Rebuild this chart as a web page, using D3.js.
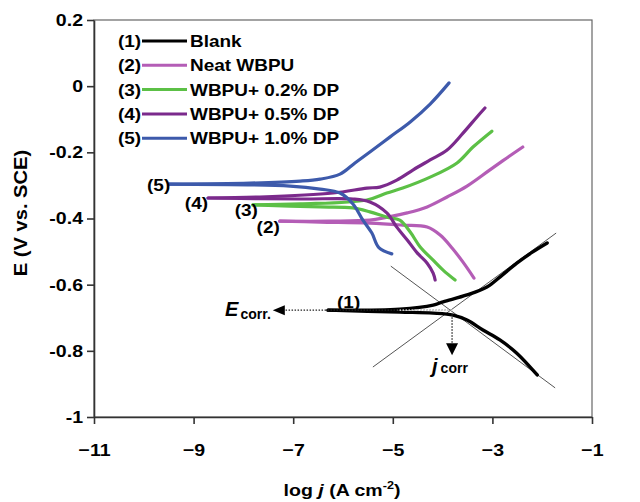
<!DOCTYPE html>
<html>
<head>
<meta charset="utf-8">
<script src="https://cdn.jsdelivr.net/npm/d3@7"></script>
<style>
  body { margin: 0; background: #fff; }
  text { font-family: Arial, "Liberation Sans", sans-serif; font-weight: bold; }
</style>
</head>
<body>
<div id="chart"></div>
<script>
// axis ticks
var xTicks = [-11, -9, -7, -5, -3, -1];
var yTicks = [0.2, 0, -0.2, -0.4, -0.6, -0.8, -1];
var yTickLabels = ["0.2", "0", "-0.2", "-0.4", "-0.6", "-0.8", "-1"];

var seriesTags = ["(1)", "(2)", "(3)", "(4)", "(5)"];
var seriesNames = ["Blank", "Neat WBPU", "WBPU+ 0.2% DP", "WBPU+ 0.5% DP", "WBPU+ 1.0% DP"];

// each curve: [log j, E] from cathodic end -> Ecorr spike -> anodic end
var blank = [[-2.10,-0.873],[-2.51,-0.807],[-2.85,-0.767],[-3.19,-0.737],[-3.51,-0.707],[-3.79,-0.692],
  [-4.19,-0.686],[-4.86,-0.683],[-6.30,-0.677],[-4.86,-0.674],[-4.19,-0.662],[-3.99,-0.652],
  [-3.51,-0.631],[-3.11,-0.607],[-2.85,-0.577],[-2.51,-0.535],[-2.19,-0.501],[-1.90,-0.474]];
var neat = [[-3.37,-0.580],[-3.59,-0.532],[-3.81,-0.489],[-4.05,-0.450],[-4.31,-0.426],[-4.80,-0.420],
  [-5.46,-0.414],[-6.46,-0.411],[-7.27,-0.408],[-6.26,-0.408],[-5.46,-0.405],[-5.12,-0.396],
  [-4.71,-0.383],[-4.31,-0.365],[-3.91,-0.335],[-3.51,-0.302],[-3.05,-0.253],[-2.71,-0.217],[-2.39,-0.184]];
var dp02 = [[-3.75,-0.586],[-3.99,-0.556],[-4.19,-0.526],[-4.45,-0.486],[-4.65,-0.441],[-4.86,-0.405],
  [-5.12,-0.396],[-5.46,-0.380],[-5.80,-0.368],[-6.46,-0.365],[-7.81,-0.359],[-6.86,-0.356],
  [-5.52,-0.344],[-5.12,-0.323],[-4.80,-0.308],[-4.25,-0.275],[-3.71,-0.232],[-3.39,-0.184],[-3.01,-0.136]];
var dp05 = [[-4.15,-0.586],[-4.19,-0.565],[-4.31,-0.535],[-4.51,-0.504],[-4.71,-0.465],[-4.92,-0.426],
  [-5.12,-0.383],[-5.46,-0.350],[-5.80,-0.341],[-6.86,-0.341],[-8.71,-0.338],[-7.67,-0.335],
  [-6.20,-0.323],[-5.52,-0.308],[-5.26,-0.305],[-4.92,-0.284],[-4.59,-0.253],[-4.25,-0.223],
  [-3.91,-0.193],[-3.59,-0.142],[-3.31,-0.093],[-3.15,-0.066]];
var dp10 = [[-5.02,-0.507],[-5.28,-0.488],[-5.42,-0.444],[-5.60,-0.405],[-5.80,-0.356],[-6.06,-0.323],
  [-6.46,-0.311],[-7.06,-0.302],[-9.49,-0.296],[-7.87,-0.293],[-6.86,-0.287],[-6.46,-0.281],
  [-6.06,-0.266],[-5.76,-0.232],[-5.46,-0.199],[-5.06,-0.154],[-4.65,-0.108],[-4.25,-0.054],[-3.87,0.010]];

// Tafel extrapolation lines for the blank and Ecorr / jcorr marks
var anodicTafel = [[-5.40,-0.849],[-1.72,-0.444]];
var cathodicTafel = [[-5.04,-0.544],[-1.74,-0.912]];
var eCorr = -0.677, logJCorr = -3.81;
var eArrowEnd = -7.41, jArrowEnd = -0.813;

var curves = [blank, neat, dp02, dp05, dp10];
var colors = ["#000000", "#b45db6", "#5cc046", "#7b2a8c", "#3d5aab"];

var margin = {top: 20, right: 48, bottom: 85, left: 94},
    width = 640 - margin.left - margin.right,
    height = 502 - margin.top - margin.bottom;
var SX = 1.15; // the figure's lettering is a bit wider than Arial

var x = d3.scaleLinear().domain([-11, -1]).range([0, width]);
var y = d3.scaleLinear().domain([-1, 0.2]).range([height, 0]);

var svg = d3.select("#chart").append("svg")
    .attr("width", width + margin.left + margin.right)
    .attr("height", height + margin.top + margin.bottom)
  .append("g")
    .attr("transform", "translate(" + margin.left + "," + margin.top + ")");

// wide text helper
function wideText(parent, px, py, size, anchor, extra) {
  return parent.append("g")
      .attr("transform", "translate(" + px + "," + py + ")" + (extra || "") + " scale(" + SX + ",1)")
    .append("text")
      .attr("font-size", size)
      .attr("text-anchor", anchor || "start");
}

// frame
svg.append("rect")
    .attr("width", width).attr("height", height)
    .attr("fill", "none").attr("stroke", "#666").attr("stroke-width", 1.2);

var xAxis = svg.append("g")
    .attr("transform", "translate(0," + height + ")")
    .call(d3.axisBottom(x).tickValues(xTicks).tickSize(7).tickSizeOuter(0).tickPadding(20)
      .tickFormat(d3.format("d")));
var yAxis = svg.append("g")
    .call(d3.axisLeft(y).tickValues(yTicks).tickSize(7).tickSizeOuter(0).tickPadding(4)
      .tickFormat(function(d, i) { return yTickLabels[i]; }));
[xAxis, yAxis].forEach(function(a) {
  a.select(".domain").attr("stroke", "#333").attr("stroke-width", 1.6);
  a.selectAll(".tick line").attr("stroke", "#333").attr("stroke-width", 1.6);
  a.selectAll("text").attr("font-size", 17).attr("font-family", "Arial, 'Liberation Sans', sans-serif")
    .attr("font-weight", "bold").attr("fill", "#000");
});
xAxis.selectAll(".tick text").attr("dy", "0.71em").attr("transform", "scale(" + SX + ",1)");
yAxis.selectAll(".tick text").attr("x", -11 / SX).attr("transform", "scale(" + SX + ",1)");

// axis titles
var xt = wideText(svg, 248, height + 79, 17, "middle");
xt.append("tspan").text("log ");
xt.append("tspan").attr("font-style", "italic").text("j");
xt.append("tspan").text("  (A cm");
xt.append("tspan").attr("font-size", 11).attr("dy", -7).text("-2");
xt.append("tspan").attr("dy", 7).text(")");

wideText(svg, -67, 193, 17.5, "middle", " rotate(-90)").text("E (V vs. SCE)");

var line = d3.line()
    .curve(d3.curveCatmullRom.alpha(0.5))
    .x(function(d) { return x(d[0]); })
    .y(function(d) { return y(d[1]); });

// tangent lines
[anodicTafel, cathodicTafel].forEach(function(t) {
  svg.append("path").datum(t).attr("d", line)
    .attr("fill", "none").attr("stroke", "#555").attr("stroke-width", 1);
});

// curves, split at the Ecorr spike into cathodic and anodic branches
curves.forEach(function(c, i) {
  var k = d3.minIndex(c, function(d) { return d[0]; });
  [c.slice(0, k + 1), c.slice(k)].forEach(function(branch) {
    svg.append("path").datum(branch).attr("d", line)
      .attr("fill", "none").attr("stroke", colors[i])
      .attr("stroke-width", i === 0 ? 3.4 : 3.2)
      .attr("stroke-linejoin", "round").attr("stroke-linecap", "round");
  });
});

// curve tags at the left spike
var tagOffsets = [[9, -8], [0, 6], [5, 5], [0, 5], [1, 1]];
curves.forEach(function(c, i) {
  var m = d3.least(c, function(d) { return d[0]; });
  wideText(svg, x(m[0]) + tagOffsets[i][0], y(m[1]) + tagOffsets[i][1] + 6, 16.5,
      i === 0 ? "start" : "end")
    .text(seriesTags[i]);
});

// Ecorr arrow (horizontal, dotted)
svg.append("line")
    .attr("x1", x(logJCorr)).attr("x2", x(eArrowEnd) + 10)
    .attr("y1", y(eCorr)).attr("y2", y(eCorr))
    .attr("stroke", "#222").attr("stroke-width", 1.3).attr("stroke-dasharray", "1.5,1.5");
svg.append("line")
    .attr("x1", x(logJCorr)).attr("x2", x(-4.9))
    .attr("y1", y(eCorr)).attr("y2", y(eCorr))
    .attr("stroke", "#fff").attr("stroke-width", 1.3).attr("stroke-dasharray", "1.5,1.5");
svg.append("path")
    .attr("d", d3.line()([[x(eArrowEnd), y(eCorr)], [x(eArrowEnd) + 12, y(eCorr) - 5], [x(eArrowEnd) + 12, y(eCorr) + 5]]) + "Z")
    .attr("fill", "#000");

// jcorr arrow (vertical, dotted)
svg.append("line")
    .attr("x1", x(logJCorr)).attr("x2", x(logJCorr))
    .attr("y1", y(eCorr) + 4).attr("y2", y(jArrowEnd) - 10)
    .attr("stroke", "#222").attr("stroke-width", 1.3).attr("stroke-dasharray", "1.5,1.5");
svg.append("path")
    .attr("d", d3.line()([[x(logJCorr), y(jArrowEnd)], [x(logJCorr) - 6, y(jArrowEnd) - 12], [x(logJCorr) + 6, y(jArrowEnd) - 12]]) + "Z")
    .attr("fill", "#000");

var eLab = svg.append("text")
    .attr("x", x(eArrowEnd) - 2).attr("y", y(eCorr) + 6)
    .attr("text-anchor", "end");
eLab.append("tspan").attr("font-size", 20).attr("font-style", "italic").text("E");
eLab.append("tspan").attr("font-size", 14).attr("dx", 2).attr("dy", 3).text("corr.");

var jLab = svg.append("text")
    .attr("x", x(logJCorr) - 20).attr("y", y(jArrowEnd) + 18);
jLab.append("tspan").attr("font-size", 20).attr("font-style", "italic").text("j");
jLab.append("tspan").attr("font-size", 14).attr("dx", 3).text("corr");

// legend
var legend = svg.append("g").attr("transform", "translate(24,21)");
seriesNames.forEach(function(name, i) {
  var g = legend.append("g").attr("transform", "translate(0," + (i * 24.3) + ")");
  wideText(g, 0, 6, 16.5, "start").text(seriesTags[i]);
  g.append("line").attr("x1", 24).attr("x2", 69).attr("y1", 0).attr("y2", 0)
    .attr("stroke", colors[i]).attr("stroke-width", 3);
  wideText(g, 72, 6, 16.5, "start").text(name);
});
</script>
</body>
</html>
